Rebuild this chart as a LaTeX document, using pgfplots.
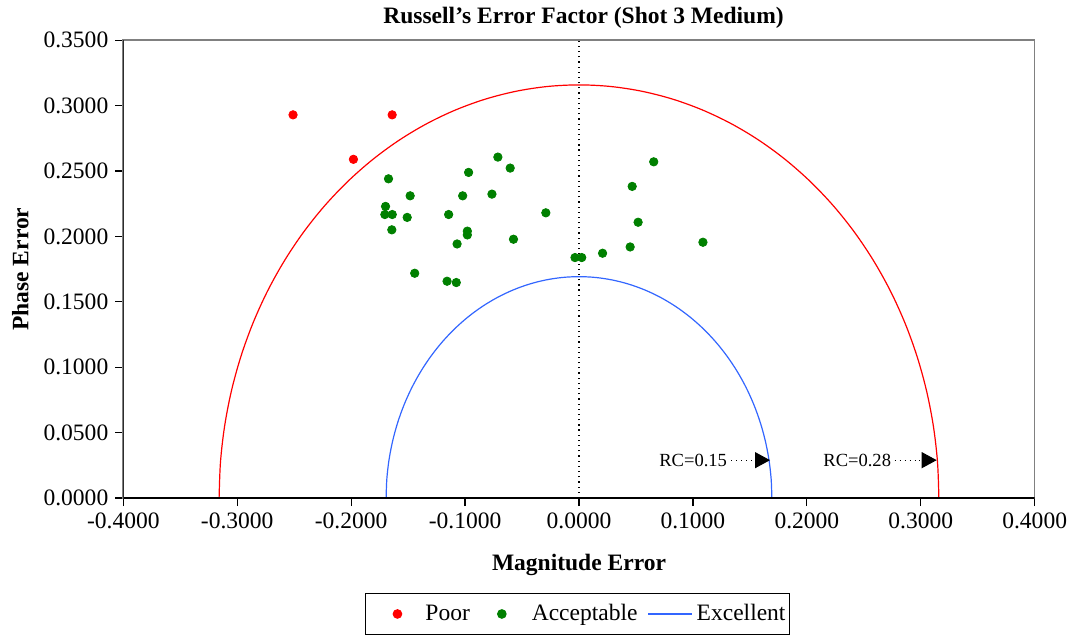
\documentclass[border=0pt]{standalone}
\usepackage{fontspec}
\setmainfont{Liberation Serif}
\usepackage{pgfplots}
\pgfplotsset{compat=1.18}
\usetikzlibrary{arrows.meta}

\definecolor{accgreen}{RGB}{0,128,0}
\definecolor{excblue}{RGB}{51,102,255}

\newcommand{\labfont}{\fontsize{11.8}{13}\selectfont}

\pgfplotsset{
  linelegend/.style={legend image code/.code={\draw[##1] (0bp,0bp) -- (22bp,0bp);}},
  firstdotlegend/.style={legend image code/.code={%
    \path[draw=none, fill=none] (0bp,0bp) -- (27.85bp,0bp);
    \draw[##1] plot coordinates {(15.85bp,0bp)};}},
  dotlegend/.style={legend image code/.code={%
    \path[draw=none, fill=none] (0bp,0bp) -- (15.1bp,0bp);
    \draw[##1] plot coordinates {(2.1bp,0bp)};}},
}

\begin{document}
\begin{tikzpicture}
  \begin{axis}[
    width=455.7bp, height=228.9bp,
    scale only axis,
    xmin=-0.4, xmax=0.4,
    ymin=0, ymax=0.35,
    xtick={-0.4,-0.3,...,0.41},
    ytick={0,0.05,...,0.351},
    xtick pos=bottom, ytick pos=left,
    tick align=outside,
    major tick length=4bp,
    axis line style={gray, line width=0.8bp},
    major tick style={black, line width=0.6bp},
    /pgf/number format/assume math mode=true,
    /pgf/number format/.cd, fixed, fixed zerofill, precision=4, /pgfplots/.cd,
    scaled ticks=false,
    tick label style={font=\labfont},
    every axis title shift=0pt,
    title={\textbf{Russell's Error Factor (Shot 3 Medium)}},
    title style={font=\labfont, at={(axis description cs:0.505,1.048)}, anchor=center},
    xlabel={\textbf{Magnitude Error}},
    xlabel style={font=\labfont, at={(axis description cs:0.5,-0.146)}, anchor=center},
    ylabel={\textbf{Phase Error}},
    ylabel style={font=\labfont, at={(axis description cs:-0.113,0.5)}, anchor=center},
    legend columns=3,
    legend style={at={(axis description cs:0.4985,-0.2076)}, anchor=north,
      font=\labfont, draw=black, line width=0.6bp,
      inner xsep=0bp, inner ysep=3.3bp,
      /tikz/column 2/.style={column sep=11.9bp},
      /tikz/column 4/.style={column sep=3bp}},
  ]

    % Poor
    \addplot[only marks, mark=*, mark size=2.1bp, draw=red, fill=red, firstdotlegend]
      coordinates {(-0.251,0.293) (-0.164,0.293) (-0.198,0.259)};
    \addlegendentry{Poor}

    % Acceptable
    \addplot[only marks, mark=*, mark size=2.1bp, draw=accgreen, fill=accgreen, dotlegend]
      coordinates {
      (-0.1672,0.2441) (-0.1482,0.2311) (-0.1698,0.2230) (-0.1704,0.2168)
      (-0.1639,0.2168) (-0.1508,0.2146) (-0.1144,0.2168) (-0.1643,0.2051)
      (-0.1070,0.1943) (-0.1442,0.1719) (-0.1158,0.1658) (-0.1077,0.1648)
      (-0.0712,0.2607) (-0.0604,0.2523) (-0.0969,0.2490) (-0.1021,0.2311)
      (-0.0764,0.2324) (-0.0291,0.2181) (-0.0980,0.2041) (-0.0980,0.2012)
      (-0.0575,0.1979) (-0.0035,0.1839) (0.0024,0.1839) (0.0207,0.1872)
      (0.0656,0.2571) (0.0467,0.2383) (0.0519,0.2109) (0.0449,0.1920)
      (0.1088,0.1956)};
    \addlegendentry{Acceptable}

    % Excellent boundary, RC = 0.15
    \addplot[excblue, line width=0.6bp, smooth, tension=0.55, linelegend] coordinates {
      (-0.1693,0) (-0.16866,0.01476) (-0.16673,0.02940) (-0.16353,0.04382)
      (-0.15909,0.05790) (-0.15344,0.07155) (-0.14662,0.08465) (-0.13868,0.09711)
      (-0.12969,0.10882) (-0.11971,0.11971) (-0.10882,0.12969) (-0.09711,0.13868)
      (-0.08465,0.14662) (-0.07155,0.15344) (-0.05790,0.15909) (-0.04382,0.16353)
      (-0.02940,0.16673) (-0.01476,0.16866) (0,0.1693)
      (0.01476,0.16866) (0.02940,0.16673) (0.04382,0.16353) (0.05790,0.15909)
      (0.07155,0.15344) (0.08465,0.14662) (0.09711,0.13868) (0.10882,0.12969)
      (0.11971,0.11971) (0.12969,0.10882) (0.13868,0.09711) (0.14662,0.08465)
      (0.15344,0.07155) (0.15909,0.05790) (0.16353,0.04382) (0.16673,0.02940)
      (0.16866,0.01476) (0.1693,0)};
    \addlegendentry{Excellent}

    % Acceptable boundary, RC = 0.28
    \addplot[red, line width=0.6bp, smooth, tension=0.55, forget plot] coordinates {
      (-0.3159,0) (-0.31470,0.02753) (-0.31110,0.05486) (-0.30514,0.08176)
      (-0.29685,0.10805) (-0.28630,0.13351) (-0.27358,0.15795) (-0.25877,0.18119)
      (-0.24199,0.20306) (-0.22338,0.22338) (-0.20306,0.24199) (-0.18119,0.25877)
      (-0.15795,0.27358) (-0.13351,0.28630) (-0.10805,0.29685) (-0.08176,0.30514)
      (-0.05486,0.31110) (-0.02753,0.31470) (0,0.3159)
      (0.02753,0.31470) (0.05486,0.31110) (0.08176,0.30514) (0.10805,0.29685)
      (0.13351,0.28630) (0.15795,0.27358) (0.18119,0.25877) (0.20306,0.24199)
      (0.22338,0.22338) (0.24199,0.20306) (0.25877,0.18119) (0.27358,0.15795)
      (0.28630,0.13351) (0.29685,0.10805) (0.30514,0.08176) (0.31110,0.05486)
      (0.31470,0.02753) (0.3159,0)};

    % centre line
    \addplot[black, dotted, line width=0.6bp, forget plot] coordinates {(0,0) (0,0.35)};

    % RC labels
    \draw[dotted, line width=0.5bp, -{Triangle[length=7.5bp,width=8bp]}]
      (axis cs:0.1335,0.029) -- (axis cs:0.1677,0.029);
    \node[anchor=east, font=\fontsize{9.3}{11}\selectfont, inner sep=1bp]
      at (axis cs:0.1320,0.029) {RC=0.15};
    \draw[dotted, line width=0.5bp, -{Triangle[length=7.5bp,width=8bp]}]
      (axis cs:0.2770,0.029) -- (axis cs:0.3140,0.029);
    \node[anchor=east, font=\fontsize{9.3}{11}\selectfont, inner sep=1bp]
      at (axis cs:0.2760,0.029) {RC=0.28};

    % black left and bottom axis lines
    \draw[black, line width=0.8bp] (rel axis cs:0,1) -- (rel axis cs:0,0) -- (rel axis cs:1,0);
  \end{axis}
  % page margins as in the reference
  \path (-61.65bp,-68.5bp) rectangle (475.35bp,249.05bp);
\end{tikzpicture}
\end{document}
